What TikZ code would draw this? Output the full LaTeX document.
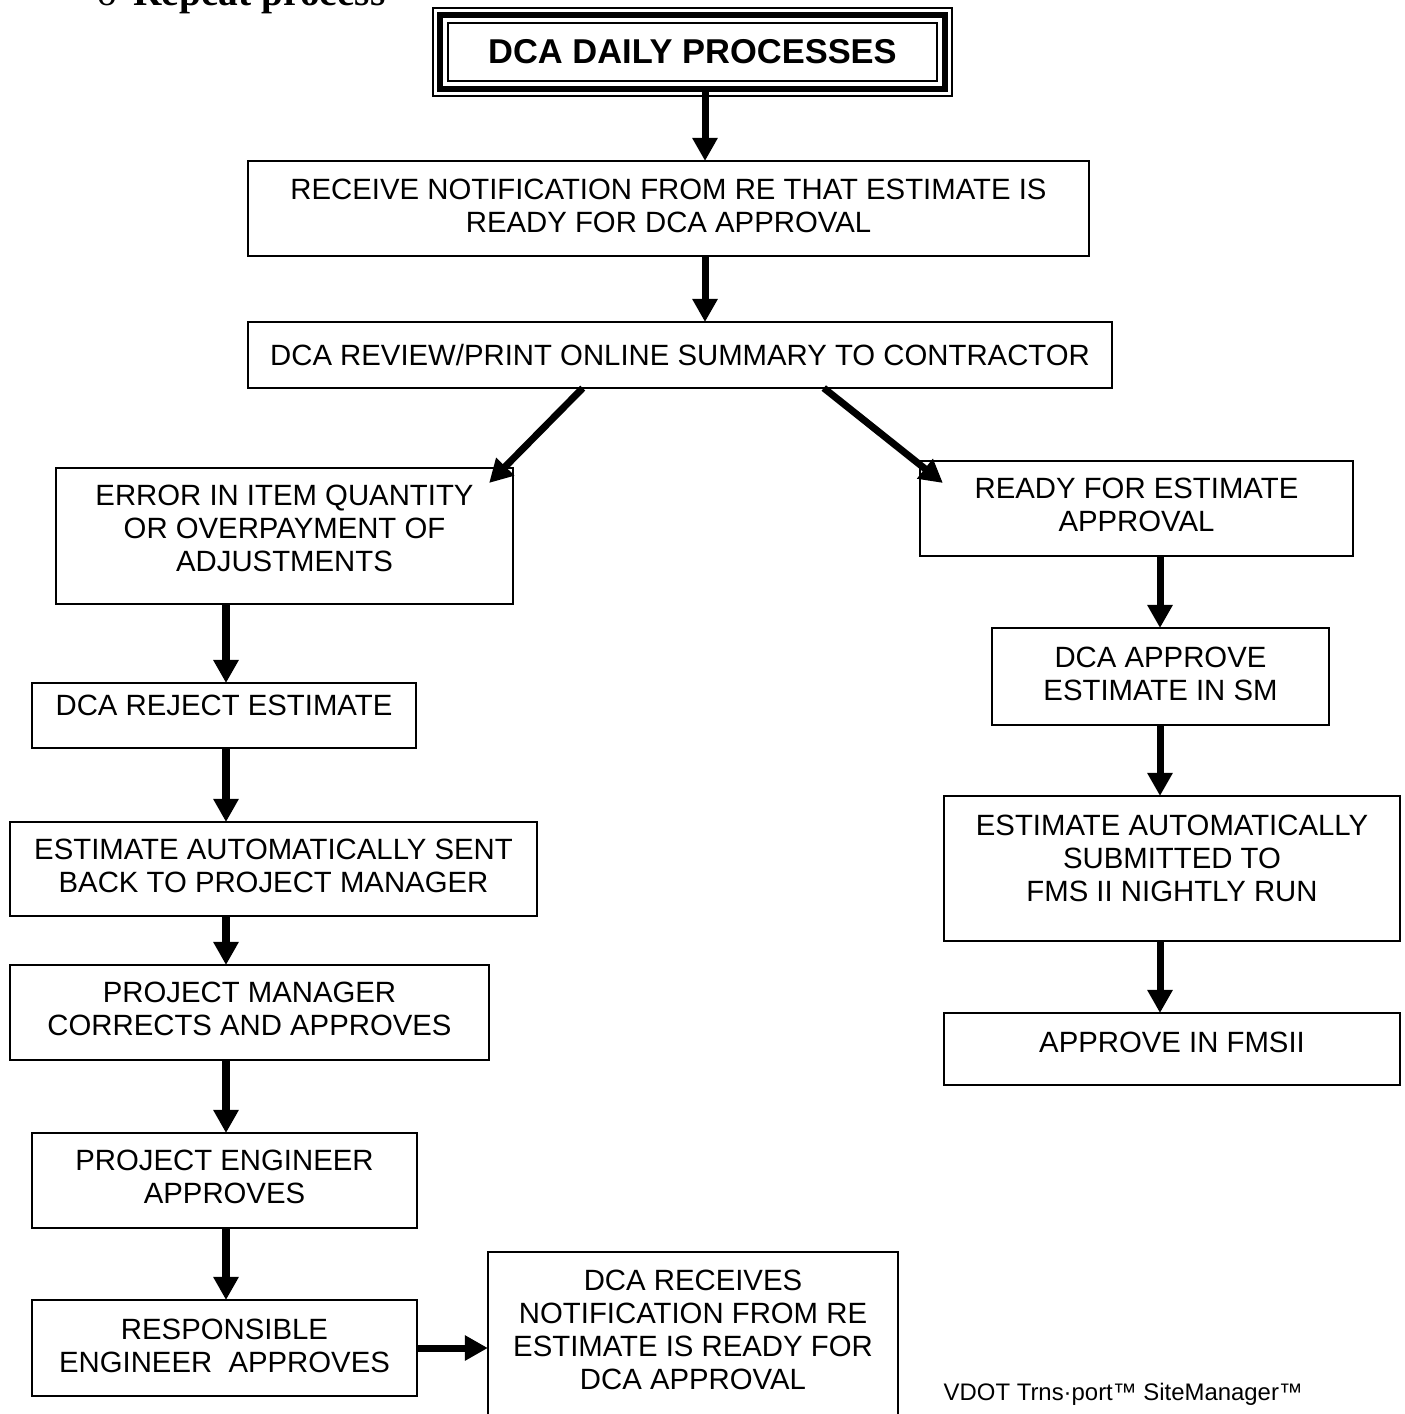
\documentclass[tikz,border=0pt]{standalone}
\usepackage{fontspec}
\setmainfont{Liberation Sans}
\newfontfamily\repeatfont{Liberation Serif}
\usetikzlibrary{arrows.meta,calc}

\begin{document}
\begin{tikzpicture}[x=0.01cm,y=-0.01cm,
  box/.style={draw, line width=0.45pt, inner sep=0pt, outer sep=0pt, align=center,
    font=\fontsize{8.34}{9.4}\selectfont},
  flow/.style={line width=0.07cm, -{Triangle[length=0.23cm,width=0.24cm]}}]
  \useasboundingbox (0,0) rectangle (1405,1414);
  \node[anchor=base west, inner sep=0pt, font=\repeatfont\fontsize{11.2}{13}\selectfont\bfseries] (repeat) at (97,5) {{\mdseries o}\hspace{0.16cm}Repeat process};
  % title with triple frame
  \node[draw, line width=0.06cm, inner sep=0pt, outer sep=0pt, minimum width=5.05cm, minimum height=0.74cm,
    font=\fontsize{9.8}{12}\selectfont\bfseries] (title) at (692.5,52) {DCA DAILY PROCESSES};
  \draw[line width=0.02cm] ($(title.north west)+(-7,-7)$) rectangle ($(title.south east)+(7,7)$);
  \draw[line width=0.02cm] ($(title.north west)+(8,8)$) rectangle ($(title.south east)+(-8,-8)$);
  % main column
  \node[box, text depth=1.7pt, minimum width=8.41cm, minimum height=0.95cm] (recv) at (668.5,208.5) {RECEIVE NOTIFICATION FROM RE THAT ESTIMATE IS\\READY FOR DCA APPROVAL};
  \node[box, minimum width=8.64cm, minimum height=0.66cm] (review) at (680,355) {DCA REVIEW/PRINT ONLINE SUMMARY TO CONTRACTOR};
  % left branch
  \node[box, text depth=4.3pt, minimum width=4.57cm, minimum height=1.36cm] (error) at (284.5,536) {ERROR IN ITEM QUANTITY\\OR OVERPAYMENT OF\\ADJUSTMENTS};
  \node[box, text depth=5.7pt, minimum width=3.84cm, minimum height=0.65cm] (reject) at (224,715.5) {DCA REJECT ESTIMATE};
  \node[box, text depth=1.7pt, minimum width=5.27cm, minimum height=0.94cm] (sent) at (273.5,869) {ESTIMATE AUTOMATICALLY SENT\\BACK TO PROJECT MANAGER};
  \node[box, text depth=2pt, minimum width=4.79cm, minimum height=0.95cm] (pm) at (249.5,1012.5) {PROJECT MANAGER\\CORRECTS AND APPROVES};
  \node[box, text depth=2pt, minimum width=3.85cm, minimum height=0.95cm] (pe) at (224.5,1180.5) {PROJECT ENGINEER\\APPROVES};
  \node[box, text depth=1.4pt, minimum width=3.85cm, minimum height=0.96cm] (resp) at (224.5,1348) {RESPONSIBLE\\ENGINEER~ APPROVES};
  \node[box, text depth=2.9pt, minimum width=4.10cm, minimum height=1.66cm] (dcarecv) at (693,1335) {DCA RECEIVES\\NOTIFICATION FROM RE\\ESTIMATE IS READY FOR\\DCA APPROVAL};
  % right branch
  \node[box, text depth=2pt, minimum width=4.33cm, minimum height=0.95cm] (ready) at (1136.5,508.5) {READY FOR ESTIMATE\\APPROVAL};
  \node[box, text depth=1.7pt, minimum width=3.37cm, minimum height=0.97cm] (approve) at (1160.5,676.5) {DCA APPROVE\\ESTIMATE IN SM};
  \node[box, text depth=5.7pt, minimum width=4.56cm, minimum height=1.45cm] (submit) at (1172,868.5) {ESTIMATE AUTOMATICALLY\\SUBMITTED TO\\FMS II NIGHTLY RUN};
  \node[box, text depth=4pt, minimum width=4.56cm, minimum height=0.72cm] (fms) at (1172,1049) {APPROVE IN FMSII};
  \node[anchor=base west, inner sep=0pt, font=\fontsize{6.8}{8}\selectfont] (footer) at (943,1400) {VDOT Trns·port™ SiteManager™};
  % arrows
  \coordinate (midcol) at (705,0);
  \coordinate (leftcol) at (226,0);
  \coordinate (rightcol) at (1160,0);
  \draw[flow] (title.south -| midcol) -- (recv.north -| midcol);
  \draw[flow] (recv.south -| midcol) -- (review.north -| midcol);
  \draw[flow] ($(review.south west)+(335,0)$) -- ($(error.north east)+(-24,15)$);
  \draw[flow] ($(review.south west)+(576,0)$) -- ($(ready.north west)+(23,22)$);
  \foreach \a/\b in {error/reject,reject/sent,sent/pm,pm/pe,pe/resp}
    \draw[flow] (\a.south -| leftcol) -- (\b.north -| leftcol);
  \foreach \a/\b in {ready/approve,approve/submit,submit/fms}
    \draw[flow] (\a.south -| rightcol) -- (\b.north -| rightcol);
  \draw[flow] (resp.east) -- (resp.east -| dcarecv.west);
\end{tikzpicture}
\end{document}
